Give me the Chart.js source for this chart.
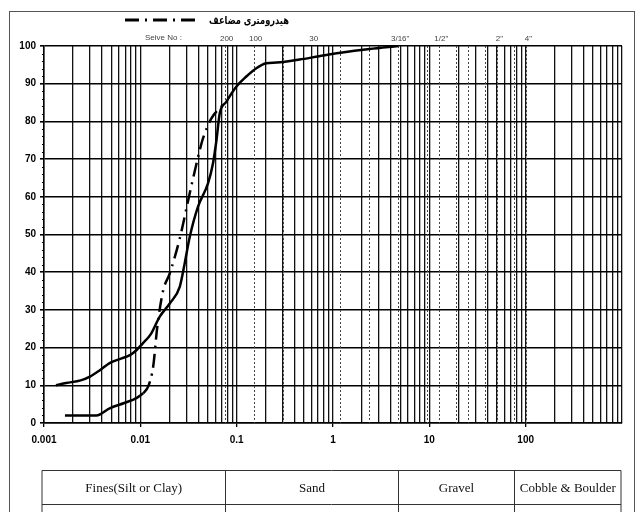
<!DOCTYPE html>
<html>
<head>
<meta charset="utf-8">
<script src="https://cdn.jsdelivr.net/npm/chart.js@4.4.1/dist/chart.umd.min.js"></script>
<style>
  html, body { margin:0; padding:0; background:#fff; }
  #wrap { width:638px; height:512px; }
</style>
</head>
<body>
<div id="wrap"><canvas id="grading" width="638" height="512"></canvas></div>
<script>
// grain size curve (solid) - size in mm, percent passing
const gradSize = [0.00133, 0.0017, 0.0024, 0.003, 0.0038, 0.0048, 0.0062, 0.0078, 0.0091, 0.0105, 0.0128, 0.0159, 0.0202, 0.0257, 0.0289, 0.0326, 0.0397, 0.0505, 0.0568, 0.0617, 0.0667, 0.078, 0.099, 0.126, 0.16, 0.203, 0.26, 0.45, 0.72, 1.2, 2.4, 4.75];
const gradPass = [10, 10.6, 11.3, 12.3, 14, 15.9, 17, 18, 19.3, 21, 23.5, 28.2, 31.7, 36.2, 42.4, 49.4, 57.4, 63.6, 68.9, 75, 82.1, 85.2, 89.2, 91.9, 94.1, 95.4, 95.6, 96.4, 97.3, 98.2, 99.2, 100];

// double hydrometer (dash-dot)
const hydroSize = [0.00165, 0.0035, 0.0048, 0.0068, 0.0091, 0.0107, 0.0122, 0.0136, 0.015, 0.0172, 0.0202, 0.0257, 0.0326, 0.0414, 0.0447, 0.0547, 0.072];
const hydroPass = [2, 2, 3.9, 5.3, 6.6, 7.9, 10, 15, 25.5, 35, 39.7, 49, 61, 72.4, 75.5, 80.8, 84.4];

// sieve openings shown as dotted lines
const sieveLines = [0.075, 0.15, 0.3, 1.18, 2.36, 4.75, 9.5, 12.7, 19, 25.4, 38.1, 50.8, 76.2, 101.6];
const sieveTickSizes = [0.075, 0.15, 0.6, 4.75, 12.7, 50.8, 101.6];
const sieveTickLabels = ['200', '100', '30', '3/16"', '1/2"', '2"', '4"'];

const xDecades = [0.001, 0.01, 0.1, 1, 10, 100];
const zoneBounds = [0.001, 0.075, 4.75, 75, 1000];
const zoneLabels = ['Fines(Silt or Clay)', 'Sand', 'Gravel', 'Cobble & Boulder'];

const legendLabel = 'هیدرومتری مضاعف';

const gridValues = [];
xDecades.forEach(d => { for (let n = 1; n <= 9; n++) gridValues.push(parseFloat((n * d).toPrecision(3))); });
gridValues.push(1000);

const decorPlugin = {
  id: 'decor',
  beforeDatasetsDraw(chart) {
    const {ctx, chartArea: a, scales: {x, y}} = chart;
    ctx.save();
    // dotted sieve lines
    ctx.strokeStyle = '#444';
    ctx.lineWidth = 1;
    ctx.setLineDash([2, 2]);
    sieveLines.forEach(v => {
      const px = Math.round(x.getPixelForValue(v)) + 0.5;
      ctx.beginPath(); ctx.moveTo(px, a.top); ctx.lineTo(px, a.bottom); ctx.stroke();
    });
    ctx.setLineDash([]);
    // small minor ticks on y axis
    ctx.strokeStyle = '#000';
    for (let v = 2; v < 100; v += 2) {
      if (v % 10 === 0) continue;
      const py = Math.round(y.getPixelForValue(v)) + 0.5;
      ctx.beginPath(); ctx.moveTo(a.left - 2, py); ctx.lineTo(a.left, py); ctx.stroke();
    }
    ctx.restore();
  },
  afterDraw(chart) {
    const {ctx, chartArea: a, scales: {x}} = chart;
    ctx.save();
    // outer frame
    ctx.strokeStyle = '#555';
    ctx.lineWidth = 1;
    ctx.strokeRect(9.5, 11.5, 625, 520);

    // legend
    ctx.strokeStyle = '#000';
    ctx.lineWidth = 3;
    ctx.setLineDash([14, 6, 2, 6]);
    ctx.beginPath(); ctx.moveTo(125, 20); ctx.lineTo(196, 20); ctx.stroke();
    ctx.setLineDash([]);
    ctx.fillStyle = '#000';
    ctx.font = 'bold 11px "DejaVu Sans"';
    ctx.direction = 'rtl';
    ctx.textAlign = 'right';
    ctx.textBaseline = 'middle';
    ctx.fillText(legendLabel, 289, 21, 80);
    ctx.direction = 'ltr';

    // sieve numbers
    ctx.fillStyle = '#444';
    ctx.font = '8px "Liberation Sans"';
    ctx.textAlign = 'left';
    ctx.fillText('Seive No :', 145, 38);
    ctx.textAlign = 'center';
    sieveTickSizes.forEach((v, i) => {
      ctx.fillText(sieveTickLabels[i], x.getPixelForValue(v) + 2, 39);
    });

    // soil classes table
    const top = 470.5, bot = 504.5, left = a.left - 2, right = a.right - 1;
    ctx.strokeStyle = '#333';
    ctx.lineWidth = 1;
    ctx.beginPath();
    ctx.moveTo(left, top); ctx.lineTo(right, top);
    ctx.moveTo(left, bot); ctx.lineTo(right, bot);
    const edges = zoneBounds.map((v, i) => {
      if (i === 0) return left;
      if (i === zoneBounds.length - 1) return right;
      return Math.round(x.getPixelForValue(v)) + 0.5;
    });
    edges.forEach(px => { ctx.moveTo(px, top); ctx.lineTo(px, 512); });
    ctx.stroke();
    ctx.fillStyle = '#111';
    ctx.font = '13px "Liberation Serif"';
    ctx.textAlign = 'center';
    zoneLabels.forEach((t, i) => {
      ctx.fillText(t, (edges[i] + edges[i + 1]) / 2, 489);
    });
    ctx.restore();
  }
};

new Chart(document.getElementById('grading'), {
  type: 'line',
  data: {
    datasets: [
      {
        label: 'grading',
        data: gradSize.map((s, i) => ({x: s, y: gradPass[i]})),
        borderColor: '#000',
        borderWidth: 2.5,
        pointRadius: 0,
        cubicInterpolationMode: 'monotone',
        fill: false
      },
      {
        label: legendLabel,
        data: hydroSize.map((s, i) => ({x: s, y: hydroPass[i]})),
        borderColor: '#000',
        borderWidth: 2.5,
        pointRadius: 0,
        cubicInterpolationMode: 'monotone',
        fill: false,
        segment: { borderDash: ctx => ctx.p0DataIndex < 5 ? [] : [14, 6, 2, 6] }
      }
    ]
  },
  options: {
    responsive: false,
    animation: false,
    devicePixelRatio: 1,
    layout: { padding: { left: 0, right: 16, top: 46, bottom: 0 } },
    plugins: { legend: { display: false }, tooltip: { enabled: false } },
    scales: {
      x: {
        type: 'logarithmic',
        min: 0.001,
        max: 1000,
        afterBuildTicks: s => { s.ticks = gridValues.map(v => ({value: v})); },
        afterFit: s => { s.height = 89; },
        ticks: {
          autoSkip: false,
          maxRotation: 0,
          padding: 7,
          color: '#000',
          font: { family: '"Liberation Sans"', size: 10, weight: 'bold' },
          callback: v => xDecades.includes(v) ? String(v) : ''
        },
        grid: {
          color: '#111',
          lineWidth: 1.3,
          tickLength: 4,
          tickColor: c => xDecades.includes(c.tick && c.tick.value) ? '#000' : 'rgba(0,0,0,0)'
        },
        border: { color: '#000', width: 1.5 }
      },
      y: {
        min: 0,
        max: 100,
        afterFit: s => { s.width = 44; },
        ticks: {
          stepSize: 10,
          padding: 4,
          color: '#000',
          font: { family: '"Liberation Sans"', size: 10, weight: 'bold' }
        },
        grid: { color: '#000', lineWidth: 1.6, tickLength: 4 },
        border: { color: '#000', width: 1.5 }
      }
    }
  },
  plugins: [decorPlugin]
});
</script>
</body>
</html>
